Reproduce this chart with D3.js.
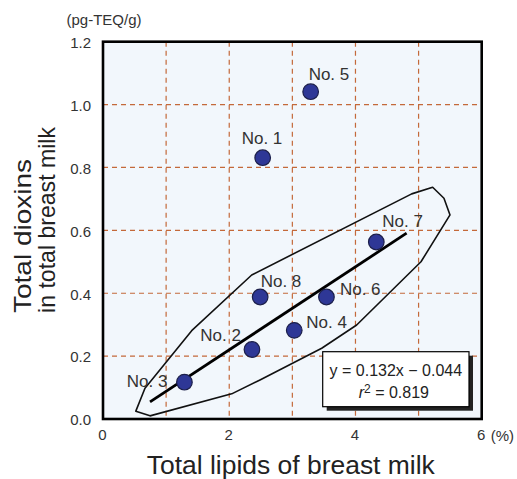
<!DOCTYPE html>
<html><head><meta charset="utf-8">
<script src="https://cdn.jsdelivr.net/npm/d3@7"></script>
<style>body{margin:0;background:#fff}svg{display:block}text{font-family:"Liberation Sans",Arial,Helvetica,sans-serif}</style>
</head><body>
<svg id="c" width="517" height="479"></svg>
<script>
// ---- data ----
const sampleNames = ["No. 1","No. 2","No. 3","No. 4","No. 5","No. 6","No. 7","No. 8"];
const lipids     = [2.53, 2.36, 1.29, 3.03, 3.29, 3.54, 4.33, 2.49];   // % total lipids
const dioxins    = [0.831, 0.221, 0.117, 0.282, 1.041, 0.388, 0.563, 0.388]; // pg-TEQ/g
const slope = 0.132, intercept = -0.044, r2 = 0.819;
const fitRangeX = [0.745, 4.81];
const envelopeX = [0.52, 0.665, 1.405, 2.356, 4.891, 5.223, 5.402, 5.498, 5.038, 4.019, 3.465, 2.487, 2.039, 0.745];
const envelopeY = [0.025, 0.098, 0.281, 0.458, 0.716, 0.737, 0.702, 0.649, 0.500, 0.299, 0.225, 0.124, 0.080, 0.010];
const xGridValues = [0,1,2,3,4,5,6];
const xTickLabels = ["0","2","4","6"];
const yTickValues = [0,0.2,0.4,0.6,0.8,1.0,1.2];

// ---- layout ----
const svg = d3.select("#c");
const L = 103, R = 481.7, T = 41.7, B = 419;
const x = d3.scaleLinear().domain([0,6]).range([L,R]);
const y = d3.scaleLinear().domain([0,1.2]).range([B,T]);

// background
svg.append("rect").attr("x",L).attr("y",T).attr("width",R-L).attr("height",B-T).attr("fill","#f2f7fc");

// grid
const gridColor = "#c4693a";
svg.append("g").selectAll("line").data(xGridValues.filter(v=>v>0&&v<6)).join("line")
  .attr("x1",d=>x(d)).attr("x2",d=>x(d)).attr("y1",T).attr("y2",B)
  .attr("stroke",gridColor).attr("stroke-width",1.2).attr("stroke-dasharray","5,4");
svg.append("g").selectAll("line").data(yTickValues.filter(v=>v>0&&v<1.2)).join("line")
  .attr("y1",d=>y(d)).attr("y2",d=>y(d)).attr("x1",L).attr("x2",R)
  .attr("stroke",gridColor).attr("stroke-width",1.2).attr("stroke-dasharray","5,4");

// y axis labels
const yAxis = d3.axisLeft(y).tickValues(yTickValues).tickFormat(d3.format(".1f")).tickSize(0).tickPadding(12);
const gy = svg.append("g").attr("transform",`translate(${L},1)`).call(yAxis);
gy.select(".domain").remove();
gy.selectAll("text").attr("font-size",15).attr("fill","#333").style("font-family","Liberation Sans, Arial, sans-serif");

// x axis labels
const xAxis = d3.axisBottom(x).tickValues(xTickLabels.map(Number)).tickFormat(d=>String(d)).tickSize(0).tickPadding(10);
const gx = svg.append("g").attr("transform",`translate(-1,${B})`).call(xAxis);
gx.select(".domain").remove();
gx.selectAll("text").attr("font-size",15).attr("fill","#333").style("font-family","Liberation Sans, Arial, sans-serif");
svg.append("text").attr("x",x(6)+9).attr("y",B+21.5).attr("font-size",15).attr("fill","#333").text("(%)");

// envelope polygon
const env = envelopeX.map((v,i)=>[x(v),y(envelopeY[i])]);
svg.append("path").attr("d",d3.line()(env)+"Z").attr("fill","none").attr("stroke","#111").attr("stroke-width",1.6).attr("stroke-linejoin","round");

// regression line
svg.append("line").attr("x1",x(fitRangeX[0])).attr("y1",y(slope*fitRangeX[0]+intercept))
  .attr("x2",x(fitRangeX[1])).attr("y2",y(slope*fitRangeX[1]+intercept))
  .attr("stroke","#000").attr("stroke-width",2.8);

// frame
svg.append("rect").attr("x",L).attr("y",T).attr("width",R-L).attr("height",B-T).attr("fill","none").attr("stroke","#000").attr("stroke-width",2.6);

// points
const pts = sampleNames.map((n,i)=>({n, x:lipids[i], y:dioxins[i]}));
svg.append("g").selectAll("circle").data(pts).join("circle")
  .attr("cx",d=>x(d.x)).attr("cy",d=>y(d.y)).attr("r",7.8)
  .attr("fill","#2e3796").attr("stroke","#1c1f4a").attr("stroke-width",1.2);

// point labels (offsets in px: dx, dy, anchor)
const labelPos = {
  "No. 1":[-21,-14,"start"], "No. 2":[-11,-8.5,"end"], "No. 3":[-17,4.5,"end"], "No. 4":[12,-2.5,"start"],
  "No. 5":[-2,-12,"start"], "No. 6":[13.5,-2.5,"start"], "No. 7":[6,-14.5,"start"], "No. 8":[0.5,-10.5,"start"]
};
svg.append("g").selectAll("text").data(pts).join("text")
  .attr("x",d=>x(d.x)+labelPos[d.n][0]).attr("y",d=>y(d.y)+labelPos[d.n][1])
  .attr("text-anchor",d=>labelPos[d.n][2]).attr("font-size",17).attr("fill","#333").text(d=>d.n);

// equation box
const bx=322.7, by=351.7, bw=146.3, bh=55;
svg.append("rect").attr("x",bx+4).attr("y",by+4).attr("width",bw).attr("height",bh).attr("fill","#222");
svg.append("rect").attr("x",bx).attr("y",by).attr("width",bw).attr("height",bh).attr("fill","#fff").attr("stroke","#000").attr("stroke-width",1.2);
svg.append("text").attr("x",bx+bw/2).attr("y",by+24).attr("text-anchor","middle").attr("font-size",16).attr("fill","#222")
  .text(`y = ${slope}x \u2212 ${Math.abs(intercept).toFixed(3)}`);
const t2 = svg.append("text").attr("x",bx+bw/2-2).attr("y",by+46.5).attr("text-anchor","middle").attr("font-size",16).attr("fill","#222");
t2.append("tspan").attr("font-style","italic").text("r");
t2.append("tspan").attr("font-size",12).attr("dy",-5).text("2");
t2.append("tspan").attr("dy",5).text(` = ${r2}`);

// unit label
svg.append("text").attr("x",66.5).attr("y",25).attr("font-size",15).attr("fill","#333").text("(pg-TEQ/g)");

// axis titles
svg.append("text").attr("transform","translate(31,313) rotate(-90)").attr("font-size",24).attr("fill","#222")
  .attr("textLength",154).attr("lengthAdjust","spacingAndGlyphs").text("Total dioxins");
svg.append("text").attr("transform","translate(55,313) rotate(-90)").attr("font-size",24).attr("fill","#222")
  .attr("textLength",186).attr("lengthAdjust","spacingAndGlyphs").text("in total breast milk");
svg.append("text").attr("x",290.8).attr("y",473.5).attr("text-anchor","middle").attr("font-size",25).attr("fill","#222")
  .attr("textLength",288).attr("lengthAdjust","spacingAndGlyphs").text("Total lipids of breast milk");
</script>
</body></html>
